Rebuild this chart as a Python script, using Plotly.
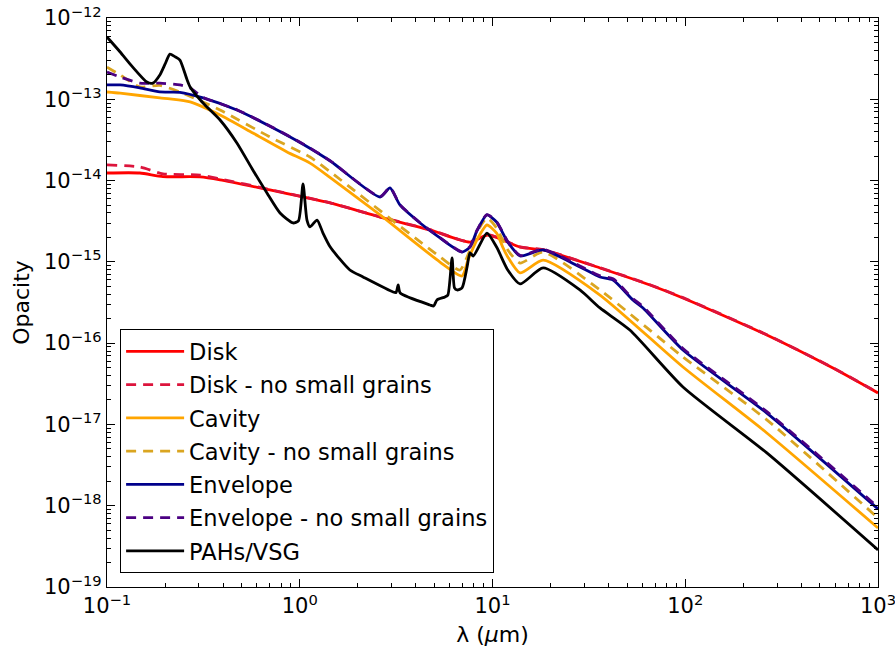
import plotly.graph_objects as go

# Wavelength grids (micron) and opacities for each dust component
disk_wl = [0.1, 0.148, 0.195, 0.304, 0.386, 0.70, 1.04, 1.44, 2.61, 4.74, 7.64,
           9.4, 10.5, 13.9, 18.3, 36.1, 65.6, 97.3, 265, 584, 1000]
disk_op = [1.24e-14, 1.24e-14, 1.12e-14, 1.11e-14, 1.02e-14, 7.66e-15, 6.28e-15,
           5.30e-15, 3.56e-15, 2.47e-15, 1.75e-15, 2.14e-15, 2.0e-15, 1.52e-15,
           1.40e-15, 8.41e-16, 5.19e-16, 3.60e-16, 1.26e-16, 4.94e-17, 2.44e-17]

disk_ns_wl = [0.1, 0.148, 0.195, 0.304, 0.386, 0.70, 1.04, 1.44, 2.61, 4.74, 7.64,
              9.4, 10.5, 13.9, 18.3, 36.1, 65.6, 97.3, 265, 584, 1000]
disk_ns_op = [1.56e-14, 1.47e-14, 1.21e-14, 1.17e-14, 1.05e-14, 7.75e-15, 6.32e-15,
              5.33e-15, 3.58e-15, 2.49e-15, 1.76e-15, 2.16e-15, 2.02e-15, 1.53e-15,
              1.41e-15, 8.48e-16, 5.23e-16, 3.63e-16, 1.27e-16, 4.98e-17, 2.46e-17]

cav_wl = [0.1, 0.117, 0.188, 0.212, 0.270, 0.386, 0.571, 0.859, 1.13, 1.44, 2.61,
          5.34, 6.95, 7.46, 8.3, 9.36, 10.5, 11.3, 12.0, 13.9, 18.3, 36.1, 97.3,
          265, 1000]
cav_op = [1.23e-13, 1.19e-13, 1.04e-13, 1.01e-13, 9.27e-14, 6.41e-14, 3.85e-14,
          2.25e-14, 1.64e-14, 1.09e-14, 3.78e-15, 9.95e-16, 6.70e-16, 1.05e-15,
          1.86e-15, 2.84e-15, 2.26e-15, 1.52e-15, 1.15e-15, 7.30e-16, 1.05e-15,
          3.91e-16, 5.09e-17, 7.85e-18, 5.32e-19]

cav_ns_wl = [0.1, 0.117, 0.148, 0.188, 0.239, 0.386, 0.70, 1.13, 1.44, 5.34, 6.78,
             7.46, 8.3, 9.36, 10.5, 12.0, 13.9, 18.3, 36.1, 97.3, 265, 1000]
cav_ns_op = [2.49e-13, 1.99e-13, 1.42e-13, 1.48e-13, 1.23e-13, 7.38e-14, 3.44e-14,
             1.95e-14, 1.28e-14, 1.15e-15, 7.94e-16, 1.22e-15, 2.3e-15, 3.47e-15,
             2.61e-15, 1.40e-15, 9.68e-16, 1.32e-15, 4.51e-16, 6.76e-17, 1.14e-17,
             7.06e-19]

env_wl = [0.1, 0.117, 0.148, 0.188, 0.239, 0.315, 0.472, 0.70, 1.04, 1.44, 2.61,
          2.94, 3.31, 4.21, 5.34, 6.95, 7.64, 8.3, 9.36, 10.5, 12.0, 13.9, 18.3,
          28.4, 36.1, 42.2, 53.5, 60.4, 97.3, 265, 1000]
env_op = [1.50e-13, 1.50e-13, 1.38e-13, 1.23e-13, 1.22e-13, 1.04e-13, 7.38e-14,
          4.66e-14, 2.80e-14, 1.74e-14, 6.28e-15, 8.11e-15, 5.01e-15, 3.01e-15,
          1.97e-15, 1.32e-15, 1.52e-15, 2.4e-15, 3.78e-15, 3.09e-15, 1.75e-15,
          1.18e-15, 1.40e-15, 8.65e-16, 6.52e-16, 5.98e-16, 3.40e-16, 2.71e-16,
          8.24e-17, 1.38e-17, 9.12e-19]

env_ns_wl = [0.1, 0.117, 0.148, 0.188, 0.239, 0.270, 0.315, 0.472, 0.70, 1.04,
             1.44, 2.61, 2.94, 3.31, 4.21, 5.34, 6.95, 7.64, 8.3, 9.36, 10.5, 12.0,
             13.9, 18.3, 28.4, 36.1, 42.2, 53.5, 60.4, 97.3, 265, 1000]
env_ns_op = [2.17e-13, 1.88e-13, 1.58e-13, 1.58e-13, 1.50e-13, 1.38e-13, 1.06e-13,
             7.45e-14, 4.7e-14, 2.83e-14, 1.75e-14, 6.33e-15, 8.2e-15, 5.05e-15,
             3.03e-15, 1.99e-15, 1.33e-15, 1.54e-15, 2.43e-15, 3.82e-15, 3.12e-15,
             1.78e-15, 1.2e-15, 1.43e-15, 8.9e-16, 6.75e-16, 6.2e-16, 3.52e-16,
             2.82e-16, 8.6e-17, 1.44e-17, 9.6e-19]

pah_wl = [0.1, 0.117, 0.136, 0.161, 0.173, 0.188, 0.2, 0.212, 0.225, 0.239, 0.26,
          0.270, 0.315, 0.386, 0.472, 0.571, 0.676, 0.790, 0.923, 0.985, 1.04,
          1.09, 1.13, 1.23, 1.32, 1.44, 1.82, 2.13, 3.05, 3.16, 3.24, 3.32, 4.74,
          4.95, 5.15, 5.67, 5.87, 6.17, 6.35, 6.55, 6.95, 7.38, 7.64, 7.95, 9.36,
          10.5, 12.0, 13.9, 18.3, 28.4, 36.1, 51.6, 97.3, 265, 1000]
pah_op = [5.83e-13, 3.82e-13, 2.49e-13, 1.63e-13, 1.58e-13, 1.99e-13, 2.7e-13,
          3.6e-13, 3.35e-13, 3.04e-13, 1.75e-13, 1.42e-13, 9.0e-14, 5.56e-14,
          2.90e-14, 1.35e-14, 7.03e-15, 3.99e-15, 3.01e-15, 3.2e-15, 9.08e-15,
          3.27e-15, 2.69e-15, 3.27e-15, 2.26e-15, 1.52e-15, 7.94e-16, 6.52e-16,
          4.26e-16, 4.2e-16, 5.19e-16, 4.14e-16, 2.95e-16, 2.86e-16, 3.40e-16,
          3.70e-16, 3.92e-16, 1.12e-15, 4.78e-16, 4.51e-16, 4.78e-16, 8.65e-16,
          1.29e-15, 1.18e-15, 2.26e-15, 1.52e-15, 7.94e-16, 5.35e-16, 8.41e-16,
          4.51e-16, 2.71e-16, 1.45e-16, 2.89e-17, 4.46e-18, 2.86e-19]

x_tickvals = [0.1, 1, 10, 100, 1000]
x_ticktext = ["10<sup>\u22121</sup>", "10<sup>0</sup>", "10<sup>1</sup>",
              "10<sup>2</sup>", "10<sup>3</sup>"]
y_tickvals = [1e-19, 1e-18, 1e-17, 1e-16, 1e-15, 1e-14, 1e-13, 1e-12]
y_ticktext = ["10<sup>\u221219</sup>", "10<sup>\u221218</sup>", "10<sup>\u221217</sup>",
              "10<sup>\u221216</sup>", "10<sup>\u221215</sup>", "10<sup>\u221214</sup>",
              "10<sup>\u221213</sup>", "10<sup>\u221212</sup>"]

series = [
    ("Disk", disk_wl, disk_op, "#FF0000", "solid"),
    ("Disk - no small grains", disk_ns_wl, disk_ns_op, "#DC143C", "10px,7px"),
    ("Cavity", cav_wl, cav_op, "#FFA500", "solid"),
    ("Cavity - no small grains", cav_ns_wl, cav_ns_op, "#DAA520", "10px,7px"),
    ("Envelope", env_wl, env_op, "#00008B", "solid"),
    ("Envelope - no small grains", env_ns_wl, env_ns_op, "#4B0082", "10px,7px"),
    ("PAHs/VSG", pah_wl, pah_op, "#000000", "solid"),
]

FONT = "DejaVu Sans, Verdana, sans-serif"

fig = go.Figure()
for name, wl, op, color, dash in series:
    fig.add_trace(go.Scatter(
        x=wl, y=op, mode="lines", name=name, legendgroup=name,
        line=dict(color=color, width=2.8, dash=dash, shape="spline", smoothing=0.6),
    ))

axis_common = dict(
    type="log", showgrid=False, zeroline=False, automargin=False,
    showline=True, linecolor="black", linewidth=1.3, mirror="allticks",
    ticks="inside", ticklen=8, tickwidth=1, tickcolor="black",
    minor=dict(ticks="inside", ticklen=4, tickwidth=1, tickcolor="black",
               dtick="D1", showgrid=False),
    tickfont=dict(family=FONT, size=21, color="black"),
    ticklabeloverflow="allow",
)

fig.update_xaxes(
    **axis_common, range=[-1, 3],
    tickmode="array", tickvals=x_tickvals, ticktext=x_ticktext,
    title=dict(text="λ (<i>μ</i>m)", font=dict(family=FONT, size=22, color="black"),
               standoff=9),
)
fig.update_yaxes(
    **axis_common, range=[-19, -12],
    tickmode="array", tickvals=y_tickvals, ticktext=y_ticktext,
    title=dict(text="Opacity", font=dict(family=FONT, size=22, color="black"),
               standoff=8),
)

fig.update_layout(
    width=895, height=656,
    margin=dict(l=107, r=17, t=18, b=69),
    paper_bgcolor="white", plot_bgcolor="white",
    font=dict(family=FONT, size=21, color="black"),
    legend=dict(
        x=0.017, y=0.453, xanchor="left", yanchor="top",
        bgcolor="white", bordercolor="black", borderwidth=1,
        font=dict(family=FONT, size=22.5, color="black"),
        tracegroupgap=1, itemwidth=58,
    ),
    showlegend=True,
)

fig.write_html("out.html")
